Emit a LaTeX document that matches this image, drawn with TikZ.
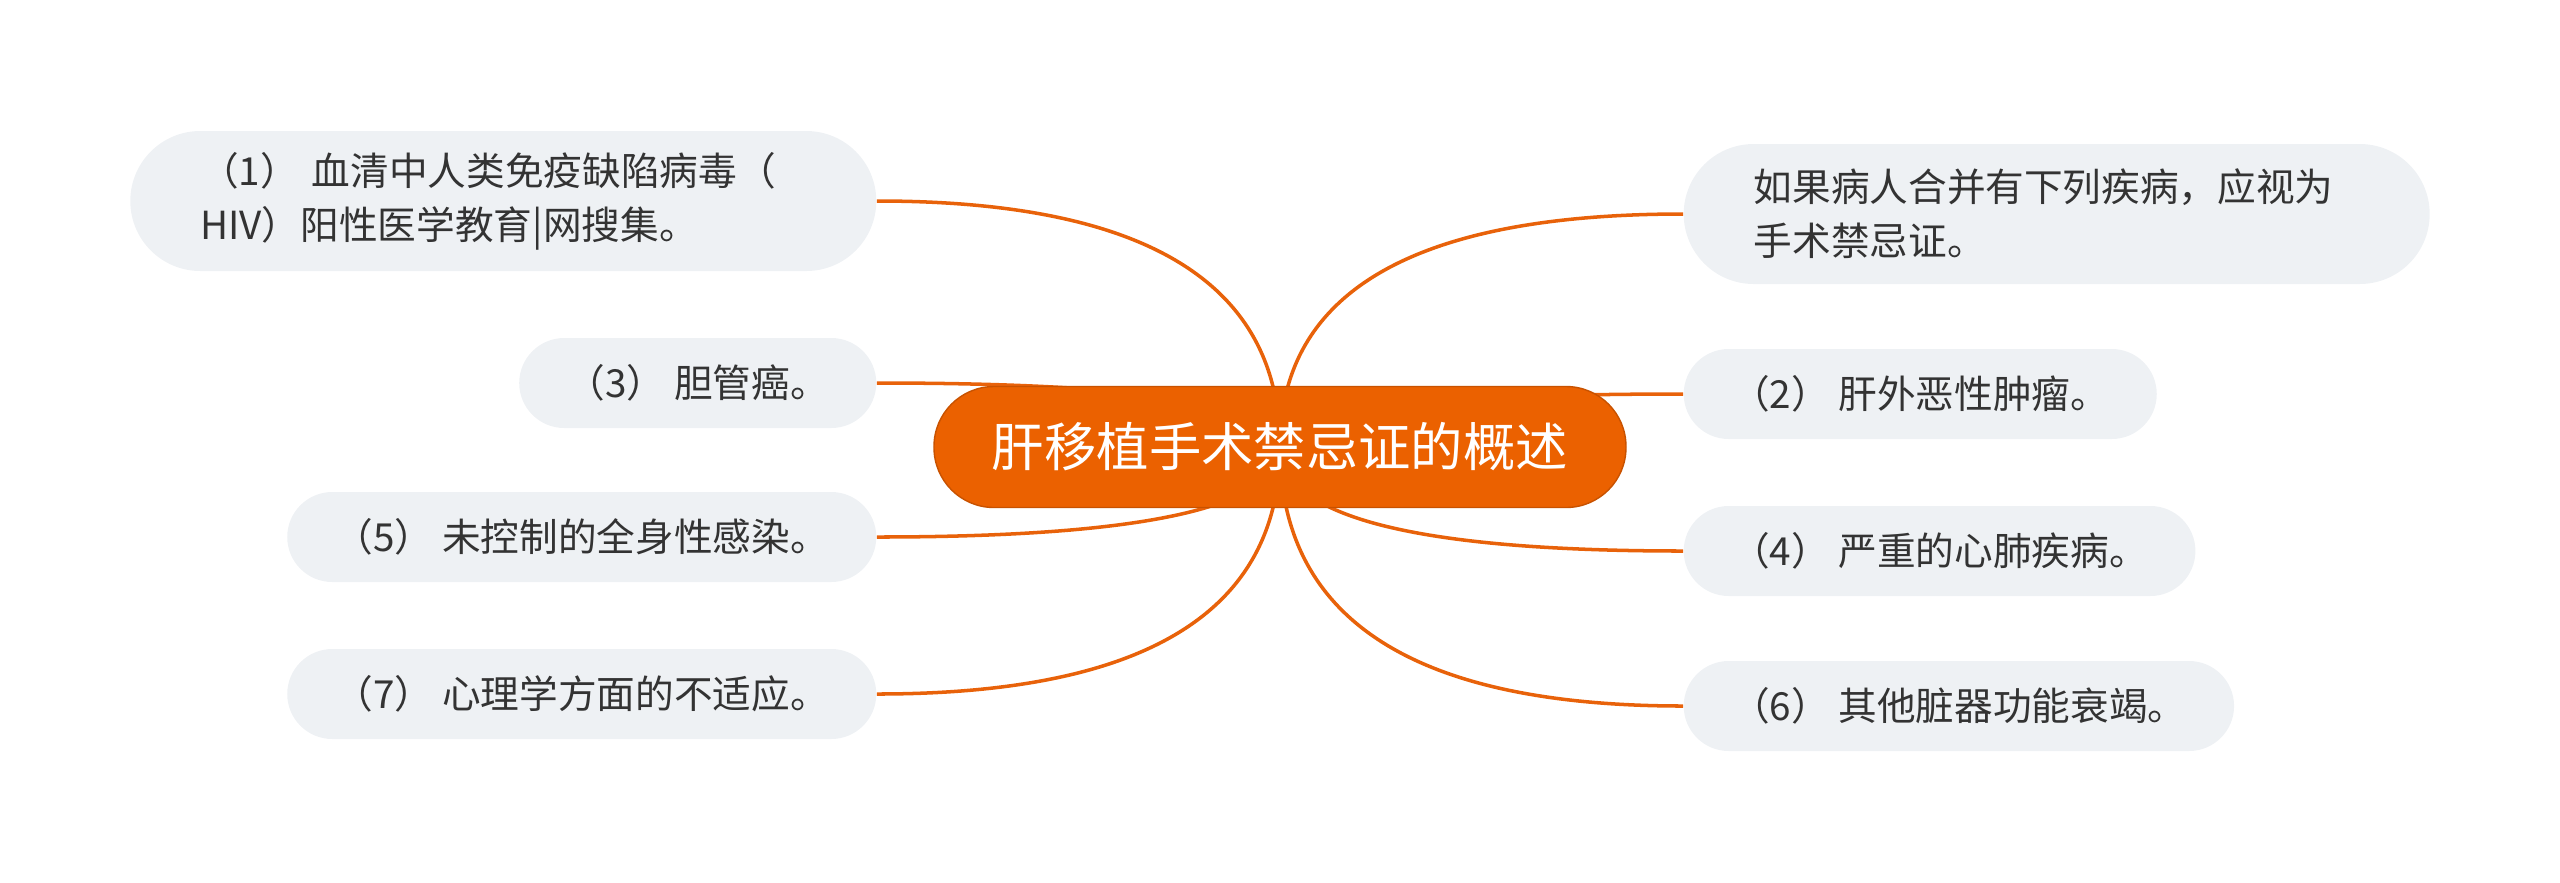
\documentclass[tikz,border=0pt]{standalone}
\usepackage{fontspec}
\setmainfont{Noto Sans CJK SC}
\usetikzlibrary{calc}
\definecolor{rootorange}{RGB}{235, 97, 0}
\definecolor{linkorange}{RGB}{232, 98, 10}
\definecolor{topicbg}{RGB}{238, 241, 244}
\definecolor{topictext}{RGB}{51, 51, 51}

\begin{document}
\begin{tikzpicture}[
  topic/.style={fill=topicbg, text=topictext, rounded corners=0.45cm, minimum height=0.9cm, inner xsep=0.475cm, inner ysep=0pt, font=\fontsize{11}{15.3}\selectfont},
  bigtopic/.style={topic, rounded corners=0.7cm, minimum height=1.4cm, inner xsep=0.7cm, text width=6.06cm, align=left},
  root/.style={fill=rootorange, draw=rootorange!85!black, line width=0.4pt, text=white, rounded corners=0.6cm, minimum width=6.92cm, minimum height=1.21cm, font=\fontsize{14.9}{18}\selectfont},
  link/.style={draw=linkorange, line width=1pt}
]
  \useasboundingbox (-12.8, -4.35) rectangle (12.8, 4.47);
  \coordinate (c) at (0, 0);

  % Left side
  \node[bigtopic, anchor=east] (n1) at (-4.03, 2.46) {（1） 血清中人类免疫缺陷病毒（\\HIV）阳性医学教育|网搜集。};
  \node[topic, anchor=east] (n3) at (-4.03, 0.64) {（3） 胆管癌。};
  \node[topic, anchor=east] (n5) at (-4.03, -0.90) {（5） 未控制的全身性感染。};
  \node[topic, anchor=east] (n7) at (-4.03, -2.47) {（7） 心理学方面的不适应。};

  % Right side
  \node[bigtopic, anchor=west] (r0) at (4.03, 2.33) {如果病人合并有下列疾病，应视为\\手术禁忌证。};
  \node[topic, anchor=west] (n2) at (4.03, 0.53) {（2） 肝外恶性肿瘤。};
  \node[topic, anchor=west] (n4) at (4.03, -1.04) {（4） 严重的心肺疾病。};
  \node[topic, anchor=west] (n6) at (4.03, -2.59) {（6） 其他脏器功能衰竭。};

  % Links
  \foreach \n/\a in {n1/east, n3/east, n5/east, n7/east, r0/west, n2/west, n4/west, n6/west}
    \draw[link] (c) .. controls ($(c)!2/3!(c |- \n.\a)$) and ($(\n.\a)!2/3!(c |- \n.\a)$) .. (\n.\a);

  % Main topic
  \node[root] (main) at (c) {肝移植手术禁忌证的概述};
\end{tikzpicture}
\end{document}
